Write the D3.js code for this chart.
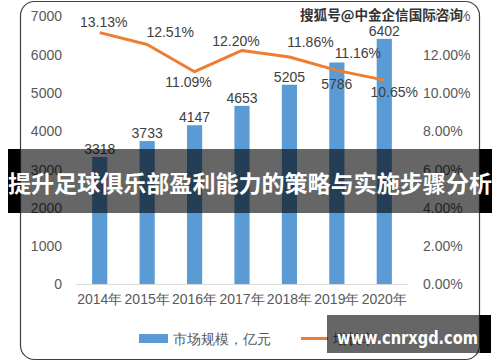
<!DOCTYPE html>
<html><head><meta charset="utf-8">
<script src="https://cdn.jsdelivr.net/npm/d3@7"></script>
<style>body{margin:0;background:#fff}svg{display:block}</style>
</head><body>
<svg id="c" width="500" height="362"></svg>
<script>
const years = ['2014年','2015年','2016年','2017年','2018年','2019年','2020年'];
const marketSize = [3318, 3733, 4147, 4653, 5205, 5786, 6402];
const growthRate = [13.13, 12.51, 11.09, 12.20, 11.86, 11.16, 10.65];
const leftTicks = [0,1000,2000,3000,4000,5000,6000,7000];
const rightTicks = [0,2,4,6,8,10,12,14];
const seriesNames = ['市场规模，亿元','增长率'];
const bannerText = '提升足球俱乐部盈利能力的策略与实施步骤分析';
const watermark = '搜狐号@中金企信国际咨询';
const siteText = 'www.cnrxgd.com';

// layout-only label offsets (dx, dy for label centres)
const pctOffsets = [[4,-11],[23,-12],[-6,10],[-6,-9],[21,-15],[21,-17],[10,12]];
const barLabelDy = [-8,-8,-8,-8,-8,22,-8];

const svg = d3.select('#c');
const font = '"Liberation Sans", Arial, sans-serif';
const grey = '#595959';

// chart frame
svg.append('rect').attr('x',20.5).attr('y',1.5).attr('width',459).attr('height',358)
  .attr('rx',14).attr('fill','#fff').attr('stroke','#404040').attr('stroke-width',1.2);

const x = d3.scaleBand().domain(years).range([76,408]).paddingInner(0.68).paddingOuter(0.34);
const yL = d3.scaleLinear().domain([0,7000]).range([284,16]);
const yR = d3.scaleLinear().domain([0,14]).range([284,16]);

// left axis
const la = svg.append('g').attr('transform','translate(62,0)')
  .call(d3.axisLeft(yL).tickValues(leftTicks).tickSize(0).tickPadding(0).tickFormat(d3.format('d')));
la.select('.domain').remove();
la.selectAll('text').attr('font-family',font).attr('font-size',14).attr('fill',grey).attr('dy','0.35em');

// right axis
const ra = svg.append('g').attr('transform','translate(423,0)')
  .call(d3.axisRight(yR).tickValues(rightTicks).tickSize(0).tickPadding(0).tickFormat(d=>d.toFixed(2)+'%'));
ra.select('.domain').remove();
ra.selectAll('text').attr('font-family',font).attr('font-size',14).attr('fill',grey).attr('dy','0.35em');

// bars
svg.selectAll('rect.bar').data(marketSize).join('rect').attr('class','bar')
  .attr('x',(d,i)=>x(years[i])).attr('width',x.bandwidth())
  .attr('y',d=>yL(d)).attr('height',d=>yL(0)-yL(d)).attr('fill','#5B9BD5');

// baseline
svg.append('line').attr('x1',76).attr('x2',408).attr('y1',284.5).attr('y2',284.5)
  .attr('stroke','#d9d9d9').attr('stroke-width',1);

// x axis labels
const xa = svg.append('g').attr('transform','translate(0,284)')
  .call(d3.axisBottom(x).tickSize(0).tickPadding(0));
xa.select('.domain').remove();
xa.selectAll('text').attr('font-family',font).attr('font-size',14).attr('fill',grey).attr('y',20).attr('dy','0');

// bar labels
svg.selectAll('text.bl').data(marketSize).join('text').attr('class','bl')
  .attr('x',(d,i)=>x(years[i])+x.bandwidth()/2).attr('y',(d,i)=>yL(d)+barLabelDy[i])
  .attr('dy','0.35em').attr('text-anchor','middle')
  .attr('font-family',font).attr('font-size',14).attr('fill','#404040').text(d=>d);

// line
const cx = i=>x(years[i])+x.bandwidth()/2;
svg.append('path').datum(growthRate)
  .attr('d',d3.line().x((d,i)=>cx(i)).y(d=>yR(d)))
  .attr('fill','none').attr('stroke','#ED7D31').attr('stroke-width',3).attr('stroke-linejoin','round');

svg.selectAll('text.pl').data(growthRate).join('text').attr('class','pl')
  .attr('x',(d,i)=>cx(i)+pctOffsets[i][0]).attr('y',(d,i)=>yR(d)+pctOffsets[i][1])
  .attr('dy','0.35em').attr('text-anchor','middle')
  .attr('font-family',font).attr('font-size',14).attr('fill','#404040').text(d=>d.toFixed(2)+'%');

// legend
svg.append('rect').attr('x',139).attr('y',334).attr('width',29).attr('height',9).attr('fill','#5B9BD5');
svg.append('text').attr('x',173).attr('y',339).attr('dy','0.35em').attr('font-family',font)
  .attr('font-size',14).attr('fill',grey).text(seriesNames[0]);
svg.append('line').attr('x1',301).attr('x2',328).attr('y1',338.5).attr('y2',338.5)
  .attr('stroke','#ED7D31').attr('stroke-width',3);
svg.append('text').attr('x',333).attr('y',339).attr('dy','0.35em').attr('font-family',font)
  .attr('font-size',14).attr('fill',grey).text(seriesNames[1]);

// watermark
svg.append('text').attr('x',463).attr('y',15).attr('dy','0.35em').attr('text-anchor','end')
  .attr('font-family','"Noto Sans CJK SC", sans-serif').attr('font-weight','bold').attr('font-size',13.5)
  .attr('textLength',163).attr('lengthAdjust','spacingAndGlyphs')
  .attr('fill','#333').attr('stroke','#fff').attr('stroke-width',2).attr('paint-order','stroke').text(watermark);

// banner overlay
svg.append('rect').attr('x',8).attr('y',149).attr('width',484).attr('height',64).attr('fill','rgba(0,0,0,0.6)');
svg.append('rect').attr('x',8).attr('y',149).attr('width',12).attr('height',64).attr('fill','#000');
svg.append('rect').attr('x',480).attr('y',149).attr('width',12).attr('height',64).attr('fill','#000');
svg.append('text').attr('x',250).attr('y',184).attr('dy','0.35em').attr('text-anchor','middle')
  .attr('font-family','"Noto Sans CJK SC", sans-serif').attr('font-weight','bold').attr('font-size',23)
  .attr('textLength',484).attr('lengthAdjust','spacingAndGlyphs').attr('fill','#fff').text(bannerText);

// site box
svg.append('rect').attr('x',327).attr('y',315).attr('width',164).attr('height',38).attr('fill','rgba(0,0,0,0.6)');
svg.append('rect').attr('x',480).attr('y',315).attr('width',11).attr('height',38).attr('fill','#000');
svg.append('text').attr('x',337).attr('y',338).attr('dy','0.35em')
  .attr('font-family','"DejaVu Sans", sans-serif').attr('font-weight','bold').attr('font-size',18)
  .attr('textLength',141).attr('lengthAdjust','spacingAndGlyphs').attr('fill','#fff').text(siteText);
</script>
</body></html>
